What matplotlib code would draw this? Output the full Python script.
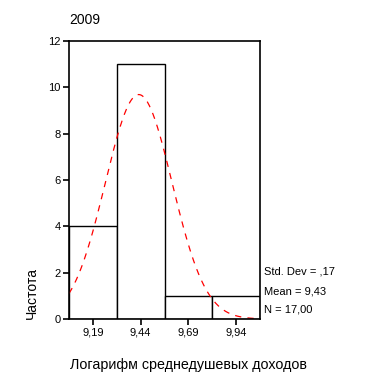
import numpy as np
import matplotlib
matplotlib.use("Agg")
import matplotlib.pyplot as plt

# data
bin_centers = [9.19, 9.44, 9.69, 9.94]
counts = [4, 11, 1, 1]
bin_width = 0.25
tick_labels = ["9,19", "9,44", "9,69", "9,94"]
mean_val = 9.43
sd_val = 0.175
n_val = 17
stats_text = ["Std. Dev = ,17", "Mean = 9,43", "N = 17,00"]
title = "2009"
ylabel = "Частота"
xlabel = "Логарифм среднедушевых доходов"

plt.rcParams['font.family'] = ['Liberation Sans', 'DejaVu Sans']

fig = plt.figure(figsize=(3.81, 3.88), dpi=100)
ax = fig.add_axes([69/381, 1-319/388, (260-69)/381, (319-41)/388])

ax.bar(bin_centers, counts, width=bin_width, color='white', edgecolor='black', linewidth=1.0)

xs = np.linspace(bin_centers[0]-bin_width/2, 10.04, 300)
ys = n_val*bin_width/(sd_val*np.sqrt(2*np.pi))*np.exp(-0.5*((xs-mean_val)/sd_val)**2)
ax.plot(xs, ys, color='red', linestyle=(0, (5, 5)), linewidth=0.9)

ax.set_xlim(bin_centers[0]-bin_width/2, bin_centers[-1]+bin_width/2)
ax.set_ylim(0, 12)
ax.set_yticks([0, 2, 4, 6, 8, 10, 12])
ax.set_xticks(bin_centers)
ax.set_xticklabels(tick_labels)
ax.tick_params(axis='both', direction='out', length=4, width=1.2, labelsize=8, pad=2)
for s in ax.spines.values():
    s.set_linewidth(1.2)

fig.text(69/381, 1-20/388, title, fontsize=10, ha='left', va='center')
for i, t in enumerate(stats_text):
    fig.text(264/381, 1-(272+19*i)/388, t, fontsize=8, ha='left', va='center')
fig.text(32/381, 1-293/388, ylabel, fontsize=10, rotation=90, ha='center', va='center')
fig.text(188/381, 1-365/388, xlabel, fontsize=10.3, ha='center', va='center')

fig.savefig("out.png", dpi=100)
